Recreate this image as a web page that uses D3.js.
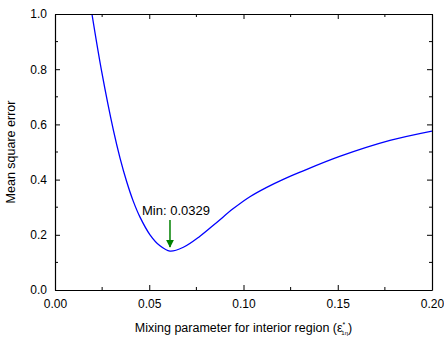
<!DOCTYPE html>
<html>
<head>
<meta charset="utf-8">
<script src="https://cdn.jsdelivr.net/npm/d3@7"></script>
<style>
  body { margin: 0; background: #fff; }
  text { font-family: Arial, "Liberation Sans", sans-serif; fill: #000; }
</style>
</head>
<body>
<script>
// curve
let mixing = [0.0196, 0.0248, 0.0310, 0.0345, 0.0380, 0.0415, 0.0451, 0.0504, 0.0557, 0.0610,
  0.0681, 0.0769, 0.0858, 0.0946, 0.1034, 0.1123, 0.1211, 0.1300, 0.1510, 0.1777, 0.2000];
let mse = [1.000, 0.790, 0.578, 0.478, 0.393, 0.322, 0.264, 0.200, 0.160, 0.141,
  0.155, 0.195, 0.245, 0.295, 0.338, 0.372, 0.401, 0.427, 0.484, 0.542, 0.576];

let xTicks = [0.00, 0.05, 0.10, 0.15, 0.20];
let yTicks = [0.0, 0.2, 0.4, 0.6, 0.8, 1.0];
let xMinor = [0.025, 0.075, 0.125, 0.175];
let yMinor = [0.1, 0.3, 0.5, 0.7, 0.9];

let minLabel = "Min: 0.0329";
let minX = 0.061;
let arrowFrom = 0.254, arrowTo = 0.156;

let W = 444, H = 343;
let pLeft = 55, pRight = 432, pTop = 14, pBottom = 290;

let svg = d3.select("body").append("svg")
  .attr("width", W)
  .attr("height", H);

let xScale = d3.scaleLinear().domain([0, 0.2]).range([pLeft, pRight]);
let yScale = d3.scaleLinear().domain([0, 1]).range([pBottom, pTop]);

// clip the curve to the plot
svg.append("clipPath").attr("id", "clip")
  .append("rect")
  .attr("x", pLeft).attr("y", pTop)
  .attr("width", pRight - pLeft).attr("height", pBottom - pTop);

let pts = mixing.map((d, i) => [d, mse[i]]);
let line = d3.line()
  .x(d => xScale(d[0]))
  .y(d => yScale(d[1]))
  .curve(d3.curveCatmullRom.alpha(0.5));

svg.append("path")
  .datum(pts)
  .attr("clip-path", "url(#clip)")
  .attr("d", line)
  .attr("fill", "none")
  .attr("stroke", "#0000ff")
  .attr("stroke-width", 1.3);

// axes, ticks pointing inwards, minor ticks between
function styleAxis(g) {
  g.select(".domain").attr("stroke", "#000").attr("stroke-width", 1.2);
  g.selectAll(".tick line").attr("stroke", "#000").attr("stroke-width", 1);
  g.selectAll("text").attr("font-size", 12).attr("font-family", "Arial, 'Liberation Sans', sans-serif");
}

let bottomAx = svg.append("g").attr("transform", `translate(0,${pBottom})`)
  .call(d3.axisBottom(xScale).tickValues(xTicks).tickSizeInner(-5).tickSizeOuter(0)
    .tickPadding(9).tickFormat(d3.format(".2f")));
styleAxis(bottomAx);
bottomAx.selectAll(".minor").data(xMinor).enter().append("line")
  .attr("x1", d => xScale(d)).attr("x2", d => xScale(d))
  .attr("y1", 0).attr("y2", -3).attr("stroke", "#000");

let topAx = svg.append("g").attr("transform", `translate(0,${pTop})`)
  .call(d3.axisTop(xScale).tickValues(xTicks).tickSizeInner(-5).tickSizeOuter(0).tickFormat(""));
styleAxis(topAx);
topAx.selectAll(".minor").data(xMinor).enter().append("line")
  .attr("x1", d => xScale(d)).attr("x2", d => xScale(d))
  .attr("y1", 0).attr("y2", 3).attr("stroke", "#000");

let leftAx = svg.append("g").attr("transform", `translate(${pLeft},0)`)
  .call(d3.axisLeft(yScale).tickValues(yTicks).tickSizeInner(-5).tickSizeOuter(0)
    .tickPadding(8).tickFormat(d3.format(".1f")));
styleAxis(leftAx);
leftAx.selectAll(".minor").data(yMinor).enter().append("line")
  .attr("y1", d => yScale(d)).attr("y2", d => yScale(d))
  .attr("x1", 0).attr("x2", 3).attr("stroke", "#000");

let rightAx = svg.append("g").attr("transform", `translate(${pRight},0)`)
  .call(d3.axisRight(yScale).tickValues(yTicks).tickSizeInner(-5).tickSizeOuter(0).tickFormat(""));
styleAxis(rightAx);
rightAx.selectAll(".minor").data(yMinor).enter().append("line")
  .attr("y1", d => yScale(d)).attr("y2", d => yScale(d))
  .attr("x1", 0).attr("x2", -3).attr("stroke", "#000");

// axis titles
svg.append("text")
  .attr("transform", `translate(15,${(pTop + pBottom) / 2}) rotate(-90)`)
  .attr("text-anchor", "middle")
  .attr("font-size", 12.5)
  .text("Mean square error");

let xt = svg.append("text")
  .attr("x", (pLeft + pRight) / 2)
  .attr("y", 332)
  .attr("text-anchor", "middle")
  .attr("font-size", 12.5);
xt.append("tspan").text("Mixing parameter for interior region (ε");
xt.append("tspan").attr("font-size", 7).attr("dy", -5).text("*");
xt.append("tspan").attr("font-size", 6).attr("dx", -4).attr("dy", 8).text("1η");
xt.append("tspan").attr("dy", -3).text(")");

// min annotation
svg.append("defs").append("marker")
  .attr("id", "head")
  .attr("viewBox", "0 0 10 10")
  .attr("refX", 9).attr("refY", 5)
  .attr("markerWidth", 8).attr("markerHeight", 8)
  .attr("markerUnits", "userSpaceOnUse")
  .attr("orient", "auto")
  .append("path").attr("d", "M0,0L10,5L0,10Z").attr("fill", "#008000");

svg.append("line")
  .attr("x1", xScale(minX)).attr("x2", xScale(minX))
  .attr("y1", yScale(arrowFrom)).attr("y2", yScale(arrowTo))
  .attr("stroke", "#008000").attr("stroke-width", 1.5)
  .attr("marker-end", "url(#head)");

svg.append("text")
  .attr("x", xScale(minX) + 6)
  .attr("y", yScale(arrowFrom) - 5)
  .attr("text-anchor", "middle")
  .attr("font-size", 13)
  .text(minLabel);
</script>
</body>
</html>
